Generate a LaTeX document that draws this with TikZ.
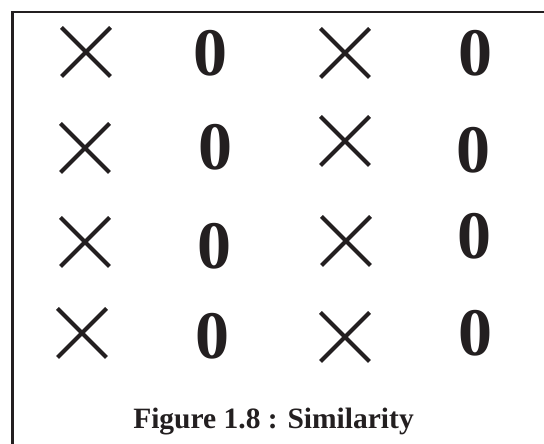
\documentclass[tikz,border=0pt]{standalone}
\usepackage{fontspec}
\setmainfont{Liberation Serif}
\usetikzlibrary{calc}
\definecolor{ink}{HTML}{231F20}
\begin{document}
\begin{tikzpicture}[x=1pt,y=1pt,
  frame/.style={draw=ink,line width=2.6pt},
  cross/.style={draw=ink,line width=4pt},
  zero/.style={text=ink,inner sep=0pt,font=\fontsize{68}{68}\selectfont\bfseries},
  caption/.style={text=ink,inner sep=0pt,font=\fontsize{29.5}{29.5}\selectfont\bfseries}]
\useasboundingbox (0,0) rectangle (544,444);
\draw[frame] (544,432) -- (12.5,432) -- (12.5,0);
% crosses: centre (x, y_img), half size 24.5
\foreach \cx/\cy [count=\i] in {86/52,345/53,85/148,345/141,85/242,346/241,82/333,345/337}{
  \coordinate (c\i) at (\cx,444-\cy);
  \draw[cross] ($(c\i)+(-24.5,24.5)$) -- ($(c\i)+(24.5,-24.5)$);
  \draw[cross] ($(c\i)+(-24.5,-24.5)$) -- ($(c\i)+(24.5,24.5)$);
}
\foreach \zx/\zy [count=\i] in {210/53,475/53,215/147,473/150,214/246,474/236,212/336,475/333}{
  \node[zero] (z\i) at (\zx,444-\zy) {0};
}
\node[caption,anchor=base] (cap) at (273.5,444-429) {Figure 1.8 : Similarity};
\end{tikzpicture}
\end{document}
